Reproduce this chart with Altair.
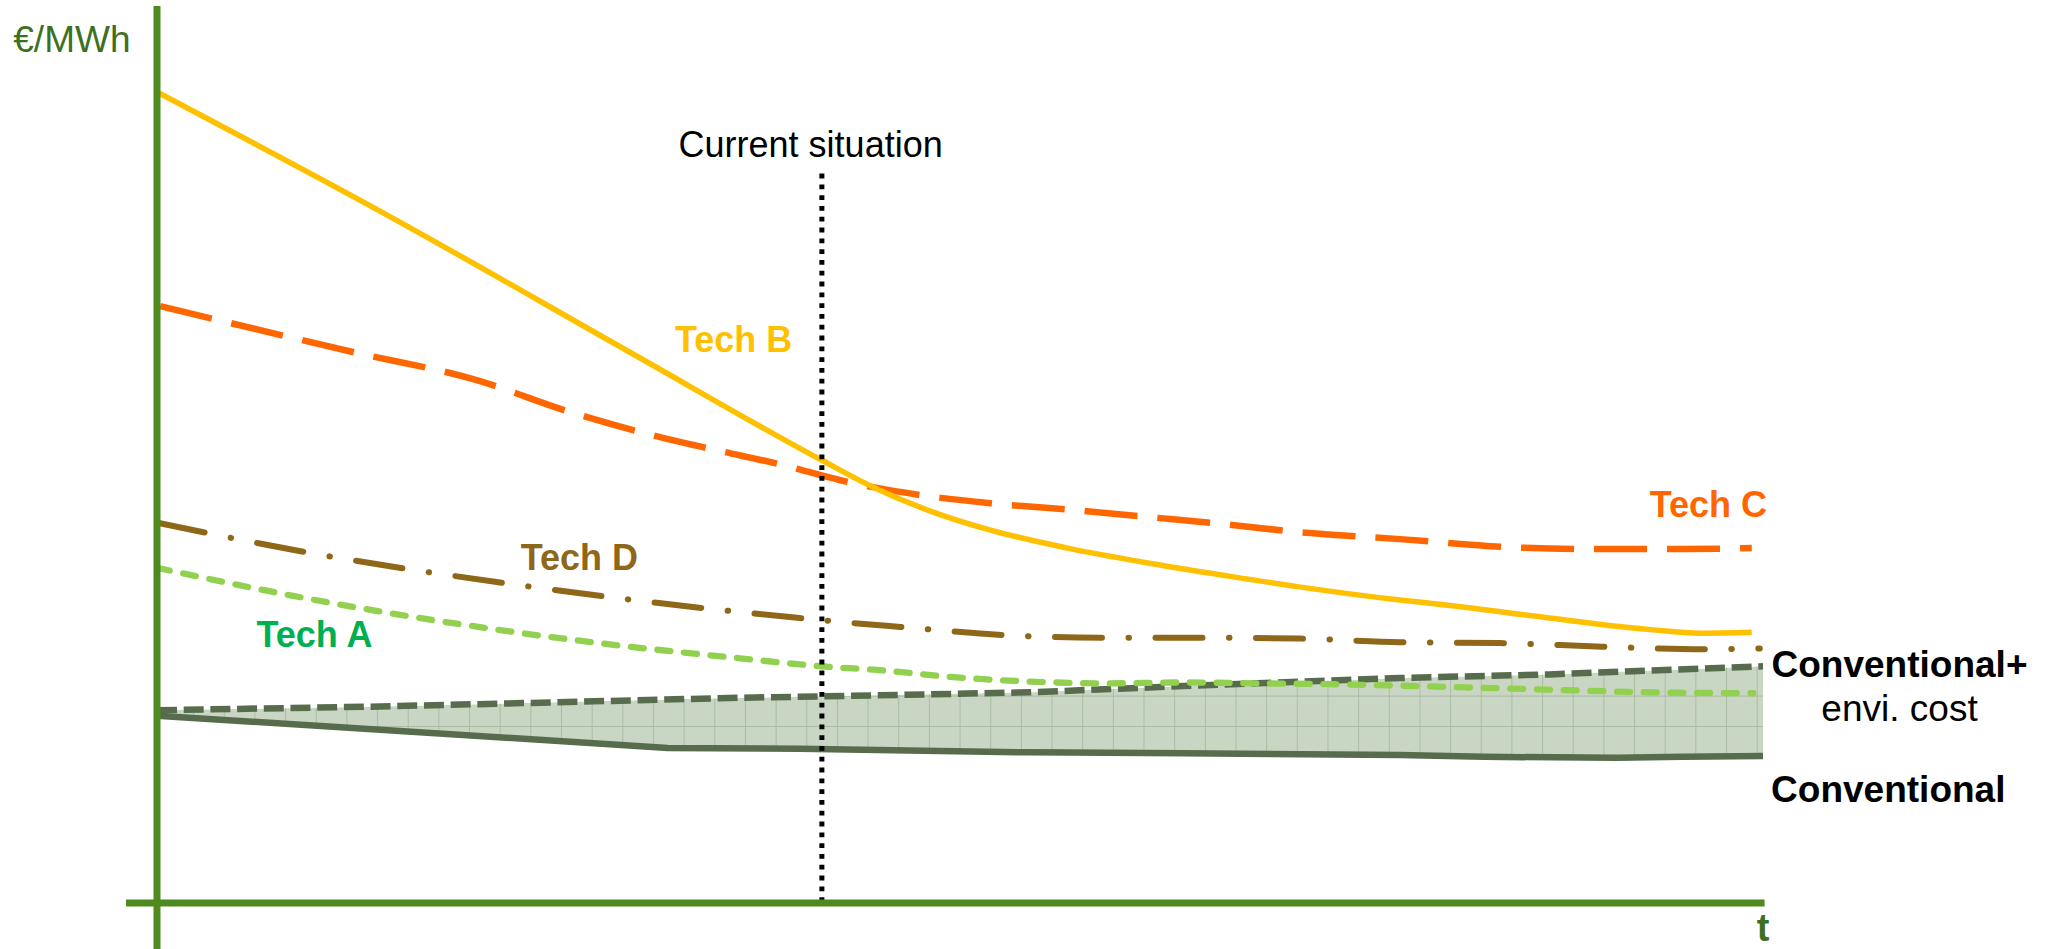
import altair as alt
import numpy as np
import pandas as pd

FONT = "Liberation Sans, Arial, Helvetica, sans-serif"

# ---- cost curves: t in relative time units (0..100), cost in relative €/MWh (0..100)
tech_b_t = [0, 14.5, 29.5, 41.4, 44.6, 47.9, 51.9, 56.7, 61.5, 66.3, 71.0, 77.4, 80.5, 86.7, 93.0, 96.1, 99.3]
tech_b_cost = [90.4, 76.5, 61.3, 49.3, 46.3, 43.8, 41.5, 39.5, 37.9, 36.5, 35.2, 33.7, 33.1, 31.7, 30.4, 30.0, 30.1]

tech_c_t = [0.2, 12.4, 19.8, 25.7, 30.0, 34.4, 38.9, 42.5, 44.6, 47.6, 51.9, 56.7, 61.5, 66.3, 71.0, 77.4, 84.2, 88.8, 95.0, 99.3]
tech_c_cost = [66.5, 61.3, 58.3, 54.7, 52.5, 50.6, 48.8, 47.1, 46.3, 45.4, 44.5, 43.8, 43.0, 42.2, 41.3, 40.5, 39.6, 39.4, 39.4, 39.5]

tech_d_t = [0.1, 9.4, 21.6, 34.0, 40.0, 41.7, 46.3, 52.7, 58.8, 65.1, 71.2, 77.4, 83.6, 90.0, 96.3, 99.8]
tech_d_cost = [42.3, 39.0, 35.6, 32.8, 31.7, 31.4, 30.7, 29.8, 29.5, 29.5, 29.4, 29.0, 28.9, 28.5, 28.2, 28.3]

tech_a_t = [0, 6.1, 13.3, 20.4, 27.5, 36.3, 41.4, 44.8, 49.6, 54.4, 59.1, 63.9, 68.6, 73.4, 80.5, 86.7, 93.0, 99.4]
tech_a_cost = [37.3, 35.0, 32.6, 30.6, 28.9, 27.2, 26.3, 25.9, 25.1, 24.6, 24.4, 24.5, 24.4, 24.3, 24.0, 23.7, 23.4, 23.3]

conv_env_t = [0, 13.3, 22.8, 36.3, 40.0, 54.4, 63.9, 77.4, 86.7, 100]
conv_env_cost = [21.4, 21.8, 22.2, 22.8, 22.9, 23.4, 24.1, 25.0, 25.4, 26.3]

conv_t = [0, 31.8, 40.0, 54.4, 63.9, 77.4, 82.6, 90.9, 95.0, 100]
conv_cost = [20.8, 17.2, 17.1, 16.7, 16.6, 16.4, 16.2, 16.1, 16.2, 16.3]

current_t = 41.4

# ---- colours
AXIS_GREEN = "#4F8A1F"
TEXT_GREEN = "#3F7020"
YELLOW = "#FFC000"
ORANGE = "#FF6600"
BROWN = "#8F6719"
LIGHT_GREEN = "#92D050"
LABEL_GREEN = "#00B050"
CONV = "#566C4C"
BAND_FILL = "#CAD6C4"
BAND_GRID = "#A9BDA3"

xs = alt.Scale(domain=[0, 100], nice=False, zero=False)
ys = alt.Scale(domain=[0, 100], nice=False, zero=False)


def X(field="x"):
    return alt.X(f"{field}:Q", scale=xs, axis=None)


def Y(field="y"):
    return alt.Y(f"{field}:Q", scale=ys, axis=None)


def curve(t, cost, color, width, dash=None, cap="butt", interp="monotone"):
    df = pd.DataFrame({"x": t, "y": cost})
    props = dict(color=color, strokeWidth=width, strokeCap=cap, interpolate=interp)
    if dash is not None:
        props["strokeDash"] = dash
    return alt.Chart(df).mark_line(**props).encode(x=X(), y=Y())


def label(text, x, y, color, size=36, weight="bold"):
    df = pd.DataFrame({"x": [x], "y": [y], "label": [text]})
    return alt.Chart(df).mark_text(
        font=FONT, fontSize=size, fontWeight=weight, color=color,
        align="center", baseline="alphabetic"
    ).encode(x=X(), y=Y(), text="label:N")


# ---- shaded band between conventional cost and conventional + environmental cost
band_df = pd.DataFrame({"x": sorted(set(conv_env_t) | set(conv_t))})
band_df["upper"] = np.interp(band_df["x"], conv_env_t, conv_env_cost)
band_df["lower"] = np.interp(band_df["x"], conv_t, conv_cost)

band = alt.Chart(band_df).mark_area(color=BAND_FILL, interpolate="linear").encode(
    x=X(), y=Y("upper"), y2="lower:Q"
)

# fine grid texture inside the band, trimmed by white masks above and below it
GRID_DX, GRID_DY = 1.909, 3.39
grid_lo, grid_hi = 13.5, 28.0
vgrid = pd.DataFrame({"x": np.arange(0.37, 100, GRID_DX)})
vgrid["y"], vgrid["y2"] = grid_lo, grid_hi
hgrid = pd.DataFrame({"y": 16.2 + GRID_DY * np.arange(0, 4)})
hgrid["x"], hgrid["x2"] = 0, 100

grid_v = alt.Chart(vgrid).mark_rule(color=BAND_GRID, strokeWidth=1).encode(
    x=X(), y=Y(), y2="y2:Q"
)
grid_h = alt.Chart(hgrid).mark_rule(color=BAND_GRID, strokeWidth=1).encode(
    y=Y(), x=X(), x2="x2:Q"
)
mask_df = band_df.copy()
mask_df["top"], mask_df["bottom"] = grid_hi + 1, grid_lo - 1
mask_top = alt.Chart(mask_df).mark_area(color="white", interpolate="linear").encode(
    x=X(), y=Y("top"), y2="upper:Q"
)
mask_bottom = alt.Chart(mask_df).mark_area(color="white", interpolate="linear").encode(
    x=X(), y=Y("lower"), y2="bottom:Q"
)

# ---- curves
conv_line = curve(conv_t, conv_cost, CONV, 6.5, interp="linear")
conv_env_line = curve(conv_env_t, conv_env_cost, CONV, 6.5, dash=[20, 6.7], interp="linear")
tech_a = curve(tech_a_t, tech_a_cost, LIGHT_GREEN, 6.3, dash=[13, 13.7], cap="round")
tech_d = curve(tech_d_t, tech_d_cost, BROWN, 6, dash=[47, 26.5, 0.5, 26.5], cap="round")
tech_c = curve(tech_c_t, tech_c_cost, ORANGE, 6.5, dash=[53, 20])
tech_b = curve(tech_b_t, tech_b_cost, YELLOW, 5.5)

# ---- "current situation" marker
now_df = pd.DataFrame({"x": [current_t], "y": [0], "y2": [81.5]})
now_rule = alt.Chart(now_df).mark_rule(
    color="black", strokeWidth=5, strokeDash=[4.8, 6.0], strokeCap="butt"
).encode(x=X(), y=Y(), y2="y2:Q")

# ---- hand-drawn style axes
yaxis_df = pd.DataFrame({"x": [0], "y": [-6], "y2": [100]})
xaxis_df = pd.DataFrame({"y": [-0.1], "x": [-1.93], "x2": [100.1]})
yaxis = alt.Chart(yaxis_df).mark_rule(color=AXIS_GREEN, strokeWidth=7).encode(
    x=X(), y=Y(), y2="y2:Q"
)
xaxis = alt.Chart(xaxis_df).mark_rule(color=AXIS_GREEN, strokeWidth=7).encode(
    y=Y(), x=X(), x2="x2:Q"
)

labels = [
    label("€/MWh", -5.3, 94.9, TEXT_GREEN, size=37, weight="normal"),
    label("t", 100.0, -4.3, TEXT_GREEN, size=38),
    label("Current situation", 40.7, 83.2, "black", size=36, weight="normal"),
    label("Tech B", 35.9, 61.4, YELLOW),
    label("Tech C", 96.6, 43.0, ORANGE),
    label("Tech D", 26.3, 37.1, BROWN),
    label("Tech A", 9.8, 28.5, LABEL_GREEN),
    label("Conventional+", 108.5, 25.1, "black", size=37),
    label("envi. cost", 108.5, 20.2, "black", size=37, weight="normal"),
    label("Conventional", 107.8, 11.2, "black", size=37),
]

chart = alt.layer(
    band, grid_v, grid_h, mask_top, mask_bottom,
    conv_line, conv_env_line, tech_a, tech_d, tech_c, tech_b,
    now_rule, yaxis, xaxis, *labels
).properties(
    width=1606,
    height=896,
    padding={"left": 157, "top": 6, "right": 282, "bottom": 47},
    autosize=alt.AutoSizeParams(type="none"),
    background="white",
).configure_view(stroke=None)

chart.save("out.html", embed_options={"renderer": "svg", "actions": False})
